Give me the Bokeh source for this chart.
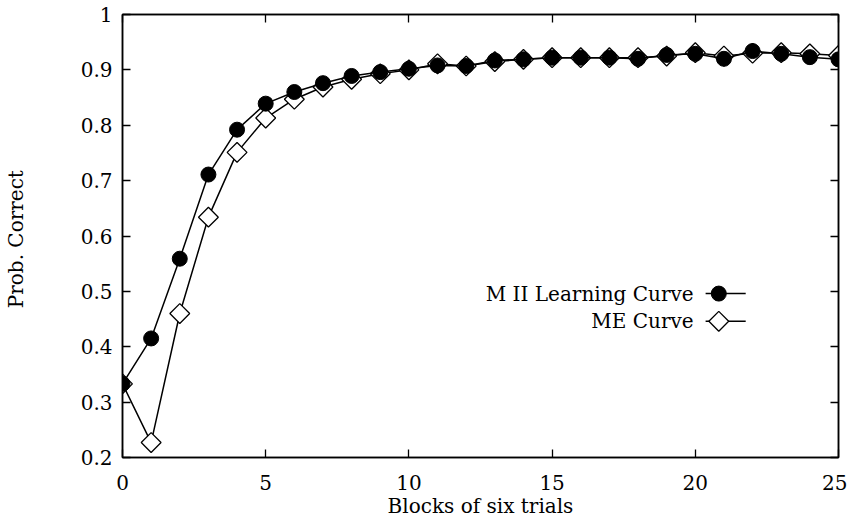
import math
from bokeh.plotting import figure
from bokeh.models import LinearAxis, FixedTicker, Range1d
from bokeh.embed import file_html
from bokeh.resources import INLINE
from bokeh.core.properties import value

blocks = list(range(26))
m2_curve = [0.333, 0.415, 0.559, 0.711, 0.792, 0.839, 0.860, 0.876, 0.889, 0.896,
            0.902, 0.908, 0.907, 0.917, 0.919, 0.922, 0.922, 0.922, 0.920, 0.927,
            0.929, 0.920, 0.934, 0.929, 0.923, 0.919]
me_curve = [0.333, 0.227, 0.460, 0.634, 0.751, 0.813, 0.847, 0.869, 0.883, 0.893,
            0.900, 0.911, 0.907, 0.915, 0.919, 0.922, 0.922, 0.922, 0.922, 0.925,
            0.931, 0.925, 0.930, 0.931, 0.929, 0.926]
x_ticks = [0, 5, 10, 15, 20, 25]
y_ticks = [0.2, 0.3, 0.4, 0.5, 0.6, 0.7, 0.8, 0.9, 1.0]
series_names = ["M II Learning Curve", "ME Curve"]

FONT = "DejaVu Serif"
FS = "20px"

p = figure(width=847, height=520, output_backend="svg", toolbar_location=None,
           x_range=Range1d(0, 25), y_range=Range1d(0.2, 1.0),
           min_border_left=121, min_border_right=9, min_border_top=14, min_border_bottom=60)
p.grid.visible = False
p.outline_line_color = "black"
p.outline_line_width = 1.5
p.background_fill_color = "white"

for ax in [p.xaxis[0], p.yaxis[0]]:
    ax.major_tick_in = 8
    ax.major_tick_out = 0
    ax.minor_tick_line_color = None
    ax.axis_line_width = 1.5
    ax.major_tick_line_width = 1.3
    ax.major_label_text_font = FONT
    ax.major_label_text_font_size = FS
    ax.axis_label_text_font = FONT
    ax.axis_label_text_font_size = FS
    ax.axis_label_text_font_style = "normal"
    ax.major_label_text_color = "black"
    ax.axis_label_text_color = "black"

p.xaxis.ticker = FixedTicker(ticks=x_ticks)
p.yaxis.ticker = FixedTicker(ticks=y_ticks)
p.yaxis.major_label_overrides = {1: "1"}
p.xaxis.axis_label = "Blocks of six trials"
p.yaxis.axis_label = "Prob.  Correct"
p.xaxis.major_label_standoff = 17
p.yaxis.major_label_standoff = 10
p.xaxis.axis_label_standoff = 1
p.yaxis.axis_label_standoff = 50

top = LinearAxis(ticker=FixedTicker(ticks=x_ticks), major_label_text_font_size="0px",
                 major_tick_in=8, major_tick_out=0, minor_tick_line_color=None,
                 axis_line_width=1.5, major_tick_line_width=1.3)
right = LinearAxis(ticker=FixedTicker(ticks=y_ticks), major_label_text_font_size="0px",
                   major_tick_in=8, major_tick_out=0, minor_tick_line_color=None,
                   axis_line_width=1.5, major_tick_line_width=1.3)
top.major_label_text_color = None
right.major_label_text_color = None
p.add_layout(top, "above")
p.add_layout(right, "right")

# ME curve (open diamonds)
p.line(blocks, me_curve, line_color="black", line_width=1.5)
p.scatter(blocks, me_curve, marker="square", angle=math.pi / 4, size=14, fill_color="white",
          line_color="black", line_width=1.3)
# M II curve (filled circles)
p.line(blocks, m2_curve, line_color="black", line_width=1.5)
p.scatter(blocks, m2_curve, marker="circle", size=15, fill_color="black",
          line_color="black")

# custom legend (layout positions in data space)
leg_text_x = 19.94
leg_line_x = [20.36, 21.76]
leg_mark_x = 20.82
leg_rows_y = [0.496, 0.446]
p.text(x=[leg_text_x] * 2, y=leg_rows_y, text=series_names, text_align="right",
       text_baseline="middle", text_font=value(FONT), text_font_size=FS,
       text_color="black")
for yy in leg_rows_y:
    p.line(leg_line_x, [yy, yy], line_color="black", line_width=1.5)
p.scatter([leg_mark_x], [leg_rows_y[0]], marker="circle", size=15, fill_color="black",
          line_color="black")
p.scatter([leg_mark_x], [leg_rows_y[1]], marker="square", angle=math.pi / 4, size=14,
          fill_color="white", line_color="black", line_width=1.3)

open("out.html", "w").write(file_html(p, INLINE))
